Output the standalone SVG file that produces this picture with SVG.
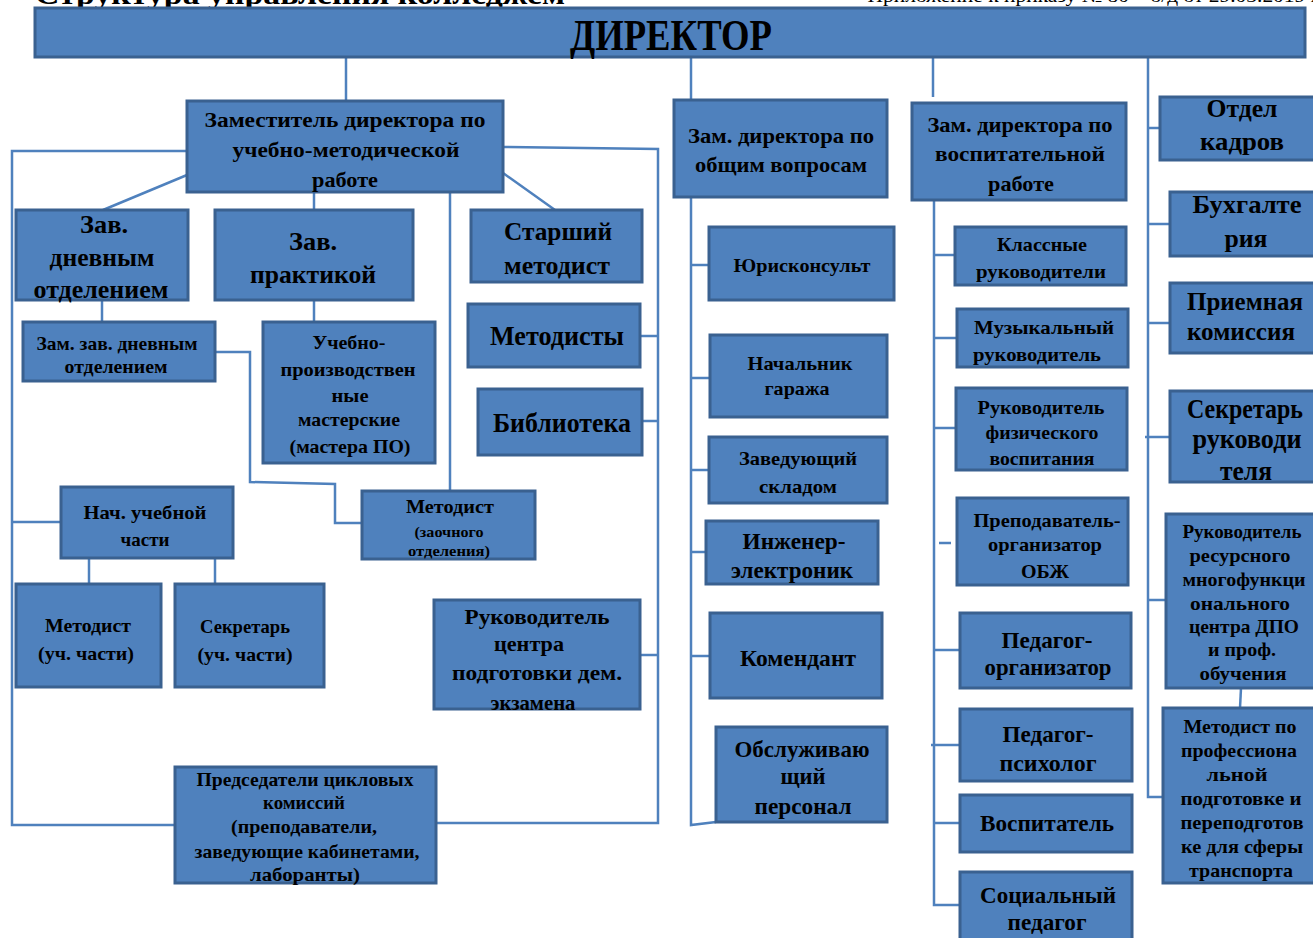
<svg xmlns="http://www.w3.org/2000/svg" width="1313" height="938" viewBox="0 0 1313 938">
<style>
.b{fill:#4f81bd;stroke:#3a6190;stroke-width:3}
.c{fill:none;stroke:#4f81bd;stroke-width:2.5}
text{font-family:"Liberation Serif","Times New Roman",serif;font-weight:bold;fill:#000;text-anchor:middle}
.s{font-size:19px}
.m{font-size:23px}
.l{font-size:26px}
.t{font-size:15px}
</style>
<rect width="1313" height="938" fill="#fff"/>
<text x="300" y="4" style="font-size:30px" textLength="530" lengthAdjust="spacingAndGlyphs">Структура управления колледжем</text>
<text x="1095" y="2" style="font-size:18px;font-weight:normal" textLength="455" lengthAdjust="spacingAndGlyphs">Приложение к приказу № 80 – о/д от 29.03.2019 г.</text>

<g id="connectors" class="c">
<path d="M346,57V101"/><path d="M691,57V99"/><path d="M933,57V97"/>
<path d="M1148,57V797H1163"/>
<path d="M187,151H12V825H175"/>
<path d="M503,147L658,149V823H436"/>
<path d="M187,175L103,210"/><path d="M314,192V210"/><path d="M503,173L555,210"/>
<path d="M450,192V491"/>
<path d="M102,300V322"/><path d="M314,300V322"/>
<path d="M640,336H658"/><path d="M642,421H658"/><path d="M640,655H658"/>
<path d="M215,352H250V482L335,484V523H362"/>
<path d="M12,522H61"/><path d="M89,558V584"/><path d="M215,558V584"/>
<path d="M691,197V825L716,822"/>
<path d="M691,265H709"/><path d="M691,378H710"/><path d="M691,470H709"/><path d="M691,552H706"/><path d="M691,656H710"/>
<path d="M934,200V905H960"/>
<path d="M934,255H955"/><path d="M934,338H957"/><path d="M934,428H956"/><path d="M939,543H951"/>
<path d="M934,650H960"/><path d="M931,745H960"/><path d="M934,823H960"/>
<path d="M1148,128H1160"/><path d="M1148,224H1170"/><path d="M1148,323H1170"/><path d="M1145,437H1170"/><path d="M1148,600H1166"/>
<path d="M1241,688L1240,708"/>
</g>

<g id="director"><rect class="b" x="35" y="8" width="1270" height="49"/>
<text x="671" y="50" style="font-size:45px" textLength="202" lengthAdjust="spacingAndGlyphs">ДИРЕКТОР</text></g>

<g id="zam-umr"><rect class="b" x="187" y="101" width="316" height="91"/>
<text x="345" y="127" style="font-size:22px" textLength="281" lengthAdjust="spacingAndGlyphs">Заместитель директора  по</text>
<text x="346" y="157" style="font-size:22px" textLength="227" lengthAdjust="spacingAndGlyphs">учебно-методической</text>
<text x="345" y="187" style="font-size:22px" textLength="66" lengthAdjust="spacingAndGlyphs">работе</text></g>

<g id="zav-dnev"><rect class="b" x="16" y="210" width="172" height="90"/>
<text class="l" x="104" y="233" textLength="48" lengthAdjust="spacingAndGlyphs">Зав.</text>
<text class="l" x="102" y="266" textLength="105" lengthAdjust="spacingAndGlyphs">дневным</text>
<text class="l" x="101" y="298" textLength="135" lengthAdjust="spacingAndGlyphs">отделением</text></g>

<g id="zav-prakt"><rect class="b" x="215" y="210" width="198" height="90"/>
<text class="l" x="313" y="250" textLength="48" lengthAdjust="spacingAndGlyphs">Зав.</text>
<text class="l" x="313" y="283" textLength="126" lengthAdjust="spacingAndGlyphs">практикой</text></g>

<g id="st-metodist"><rect class="b" x="471" y="210" width="171" height="72"/>
<text class="l" x="558" y="240" textLength="108" lengthAdjust="spacingAndGlyphs">Старший</text>
<text class="l" x="557" y="274" textLength="106" lengthAdjust="spacingAndGlyphs">методист</text></g>

<g id="metodisty"><rect class="b" x="468" y="304" width="172" height="63"/>
<text x="557" y="345" style="font-size:27px" textLength="134" lengthAdjust="spacingAndGlyphs">Методисты</text></g>

<g id="biblioteka"><rect class="b" x="478" y="389" width="164" height="66"/>
<text x="562" y="432" style="font-size:27px" textLength="138" lengthAdjust="spacingAndGlyphs">Библиотека</text></g>

<g id="zam-zav-dnev"><rect class="b" x="23" y="322" width="192" height="59"/>
<text class="s" x="117" y="350" textLength="161" lengthAdjust="spacingAndGlyphs">Зам. зав. дневным</text>
<text class="s" x="116" y="373" textLength="103" lengthAdjust="spacingAndGlyphs">отделением</text></g>

<g id="masterskie"><rect class="b" x="263" y="322" width="172" height="141"/>
<text class="s" x="349" y="349" textLength="73" lengthAdjust="spacingAndGlyphs">Учебно-</text>
<text class="s" x="348" y="376" textLength="135" lengthAdjust="spacingAndGlyphs">производствен</text>
<text class="s" x="350" y="402" textLength="37" lengthAdjust="spacingAndGlyphs">ные</text>
<text class="s" x="349" y="426" textLength="102" lengthAdjust="spacingAndGlyphs">мастерские</text>
<text class="s" x="350" y="453" textLength="121" lengthAdjust="spacingAndGlyphs">(мастера  ПО)</text></g>

<g id="metodist-zaoch"><rect class="b" x="362" y="491" width="173" height="68"/>
<text class="s" x="450" y="513" textLength="88" lengthAdjust="spacingAndGlyphs">Методист</text>
<text class="t" x="449" y="537" textLength="69" lengthAdjust="spacingAndGlyphs">(заочного</text>
<text class="t" x="449" y="556" textLength="82" lengthAdjust="spacingAndGlyphs">отделения)</text></g>

<g id="nach-uch"><rect class="b" x="61" y="487" width="172" height="71"/>
<text class="s" x="145" y="519" textLength="123" lengthAdjust="spacingAndGlyphs">Нач. учебной</text>
<text class="s" x="145" y="546" textLength="49" lengthAdjust="spacingAndGlyphs">части</text></g>

<g id="metodist-uch"><rect class="b" x="16" y="584" width="145" height="103"/>
<text class="s" x="88" y="632" textLength="86" lengthAdjust="spacingAndGlyphs">Методист</text>
<text class="s" x="86" y="660" textLength="96" lengthAdjust="spacingAndGlyphs">(уч. части)</text></g>

<g id="sekretar-uch"><rect class="b" x="175" y="584" width="149" height="103"/>
<text class="s" x="245" y="633" textLength="90" lengthAdjust="spacingAndGlyphs">Секретарь</text>
<text class="s" x="245" y="661" textLength="95" lengthAdjust="spacingAndGlyphs">(уч. части)</text></g>

<g id="ruk-dem"><rect class="b" x="434" y="600" width="206" height="109"/>
<text x="537" y="624" style="font-size:22px" textLength="145" lengthAdjust="spacingAndGlyphs">Руководитель</text>
<text x="529" y="651" style="font-size:22px" textLength="70" lengthAdjust="spacingAndGlyphs">центра</text>
<text x="537" y="680" style="font-size:22px" textLength="170" lengthAdjust="spacingAndGlyphs">подготовки дем.</text>
<text x="533" y="710" style="font-size:22px" textLength="85" lengthAdjust="spacingAndGlyphs">экзамена</text></g>

<g id="predsedateli"><rect class="b" x="175" y="767" width="261" height="116"/>
<text class="s" x="305" y="786" textLength="217" lengthAdjust="spacingAndGlyphs">Председатели цикловых</text>
<text class="s" x="304" y="809" textLength="82" lengthAdjust="spacingAndGlyphs">комиссий</text>
<text class="s" x="304" y="833" textLength="146" lengthAdjust="spacingAndGlyphs">(преподаватели,</text>
<text class="s" x="307" y="858" textLength="225" lengthAdjust="spacingAndGlyphs">заведующие кабинетами,</text>
<text class="s" x="305" y="881" textLength="110" lengthAdjust="spacingAndGlyphs">лаборанты)</text></g>

<g id="zam-obsh"><rect class="b" x="674" y="100" width="213" height="97"/>
<text x="781" y="143" style="font-size:22px" textLength="186" lengthAdjust="spacingAndGlyphs">Зам. директора по</text>
<text x="781" y="172" style="font-size:22px" textLength="172" lengthAdjust="spacingAndGlyphs">общим вопросам</text></g>

<g id="yuriskonsult"><rect class="b" x="709" y="227" width="185" height="73"/>
<text class="s" x="802" y="272" textLength="137" lengthAdjust="spacingAndGlyphs">Юрисконсульт</text></g>

<g id="nach-garazha"><rect class="b" x="710" y="335" width="177" height="82"/>
<text class="s" x="800" y="370" textLength="105" lengthAdjust="spacingAndGlyphs">Начальник</text>
<text class="s" x="797" y="395" textLength="65" lengthAdjust="spacingAndGlyphs">гаража</text></g>

<g id="zav-sklad"><rect class="b" x="709" y="437" width="178" height="66"/>
<text class="s" x="798" y="465" textLength="118" lengthAdjust="spacingAndGlyphs">Заведующий</text>
<text class="s" x="798" y="493" textLength="78" lengthAdjust="spacingAndGlyphs">складом</text></g>

<g id="inzhener"><rect class="b" x="706" y="521" width="172" height="63"/>
<text class="m" x="794" y="549" textLength="103" lengthAdjust="spacingAndGlyphs">Инженер-</text>
<text class="m" x="792" y="578" textLength="122" lengthAdjust="spacingAndGlyphs">электроник</text></g>

<g id="komendant"><rect class="b" x="710" y="613" width="172" height="85"/>
<text class="m" x="798" y="666" textLength="116" lengthAdjust="spacingAndGlyphs">Комендант</text></g>

<g id="obsluzh"><rect class="b" x="716" y="727" width="171" height="95"/>
<text class="m" x="802" y="757" textLength="135" lengthAdjust="spacingAndGlyphs">Обслуживаю</text>
<text class="m" x="803" y="784" textLength="45" lengthAdjust="spacingAndGlyphs">щий</text>
<text class="m" x="803" y="814" textLength="97" lengthAdjust="spacingAndGlyphs">персонал</text></g>

<g id="zam-vosp"><rect class="b" x="912" y="103" width="214" height="97"/>
<text x="1020" y="132" style="font-size:22px" textLength="185" lengthAdjust="spacingAndGlyphs">Зам. директора по</text>
<text x="1020" y="161" style="font-size:22px" textLength="170" lengthAdjust="spacingAndGlyphs">воспитательной</text>
<text x="1021" y="191" style="font-size:22px" textLength="66" lengthAdjust="spacingAndGlyphs">работе</text></g>

<g id="klassnye"><rect class="b" x="955" y="227" width="171" height="58"/>
<text class="s" x="1042" y="251" textLength="90" lengthAdjust="spacingAndGlyphs">Классные</text>
<text class="s" x="1041" y="278" textLength="130" lengthAdjust="spacingAndGlyphs">руководители</text></g>

<g id="muz"><rect class="b" x="957" y="309" width="171" height="58"/>
<text class="s" x="1044" y="334" textLength="140" lengthAdjust="spacingAndGlyphs">Музыкальный</text>
<text class="s" x="1037" y="361" textLength="128" lengthAdjust="spacingAndGlyphs">руководитель</text></g>

<g id="fiz"><rect class="b" x="956" y="388" width="171" height="82"/>
<text class="s" x="1041" y="414" textLength="127" lengthAdjust="spacingAndGlyphs">Руководитель</text>
<text class="s" x="1042" y="439" textLength="113" lengthAdjust="spacingAndGlyphs">физического</text>
<text class="s" x="1042" y="465" textLength="105" lengthAdjust="spacingAndGlyphs">воспитания</text></g>

<g id="obzh"><rect class="b" x="957" y="498" width="171" height="87"/>
<text class="s" x="1047" y="527" textLength="147" lengthAdjust="spacingAndGlyphs">Преподаватель-</text>
<text class="s" x="1045" y="551" textLength="114" lengthAdjust="spacingAndGlyphs">организатор</text>
<text class="s" x="1045" y="578" textLength="48" lengthAdjust="spacingAndGlyphs">ОБЖ</text></g>

<g id="ped-org"><rect class="b" x="960" y="613" width="171" height="75"/>
<text class="m" x="1047" y="648" textLength="91" lengthAdjust="spacingAndGlyphs">Педагог-</text>
<text class="m" x="1048" y="675" textLength="127" lengthAdjust="spacingAndGlyphs">организатор</text></g>

<g id="ped-psih"><rect class="b" x="960" y="709" width="172" height="72"/>
<text class="m" x="1048" y="742" textLength="91" lengthAdjust="spacingAndGlyphs">Педагог-</text>
<text class="m" x="1048" y="771" textLength="97" lengthAdjust="spacingAndGlyphs">психолог</text></g>

<g id="vospitatel"><rect class="b" x="960" y="795" width="172" height="57"/>
<text class="m" x="1047" y="831" textLength="134" lengthAdjust="spacingAndGlyphs">Воспитатель</text></g>

<g id="soc-ped"><rect class="b" x="960" y="872" width="172" height="70"/>
<text class="m" x="1048" y="903" textLength="136" lengthAdjust="spacingAndGlyphs">Социальный</text>
<text class="m" x="1047" y="930" textLength="79" lengthAdjust="spacingAndGlyphs">педагог</text></g>

<g id="kadry"><rect class="b" x="1160" y="97" width="160" height="63"/>
<text class="l" x="1242" y="117" textLength="71" lengthAdjust="spacingAndGlyphs">Отдел</text>
<text class="l" x="1242" y="150" textLength="84" lengthAdjust="spacingAndGlyphs">кадров</text></g>

<g id="buh"><rect class="b" x="1170" y="192" width="150" height="64"/>
<text class="l" x="1247" y="213" textLength="109" lengthAdjust="spacingAndGlyphs">Бухгалте</text>
<text class="l" x="1246" y="247" textLength="43" lengthAdjust="spacingAndGlyphs">рия</text></g>

<g id="priemnaya"><rect class="b" x="1170" y="283" width="150" height="70"/>
<text class="l" x="1245" y="310" textLength="116" lengthAdjust="spacingAndGlyphs">Приемная</text>
<text class="l" x="1241" y="340" textLength="108" lengthAdjust="spacingAndGlyphs">комиссия</text></g>

<g id="sekretar-ruk"><rect class="b" x="1170" y="391" width="150" height="91"/>
<text x="1245" y="418" style="font-size:27px" textLength="116" lengthAdjust="spacingAndGlyphs">Секретарь</text>
<text x="1247" y="448" style="font-size:27px" textLength="109" lengthAdjust="spacingAndGlyphs">руководи</text>
<text x="1246" y="480" style="font-size:27px" textLength="52" lengthAdjust="spacingAndGlyphs">теля</text></g>

<g id="ruk-dpo"><rect class="b" x="1166" y="514" width="154" height="174"/>
<text class="s" x="1242" y="538" textLength="119" lengthAdjust="spacingAndGlyphs">Руководитель</text>
<text class="s" x="1240" y="562" textLength="101" lengthAdjust="spacingAndGlyphs">ресурсного</text>
<text class="s" x="1244" y="586" textLength="123" lengthAdjust="spacingAndGlyphs">многофункци</text>
<text class="s" x="1240" y="610" textLength="100" lengthAdjust="spacingAndGlyphs">онального</text>
<text class="s" x="1244" y="633" textLength="110" lengthAdjust="spacingAndGlyphs">центра ДПО</text>
<text class="s" x="1242" y="656" textLength="68" lengthAdjust="spacingAndGlyphs">и проф.</text>
<text class="s" x="1243" y="680" textLength="87" lengthAdjust="spacingAndGlyphs">обучения</text></g>

<g id="metodist-prof"><rect class="b" x="1163" y="708" width="157" height="175"/>
<text class="s" x="1240" y="733" textLength="113" lengthAdjust="spacingAndGlyphs">Методист по</text>
<text class="s" x="1239" y="757" textLength="116" lengthAdjust="spacingAndGlyphs">профессиона</text>
<text class="s" x="1237" y="781" textLength="61" lengthAdjust="spacingAndGlyphs">льной</text>
<text class="s" x="1241" y="805" textLength="121" lengthAdjust="spacingAndGlyphs">подготовке и</text>
<text class="s" x="1242" y="829" textLength="123" lengthAdjust="spacingAndGlyphs">переподготов</text>
<text class="s" x="1242" y="853" textLength="122" lengthAdjust="spacingAndGlyphs">ке для сферы</text>
<text class="s" x="1241" y="877" textLength="104" lengthAdjust="spacingAndGlyphs">транспорта</text></g>
</svg>
